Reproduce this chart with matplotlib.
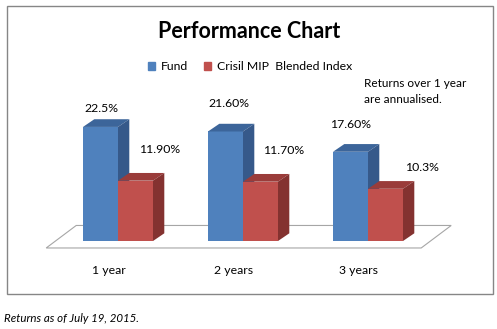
import matplotlib
matplotlib.use('Agg')
import matplotlib.pyplot as plt
from matplotlib.patches import Polygon, Rectangle, Patch

plt.rcParams['font.family'] = ['Lato', 'DejaVu Sans']

####################################################################################################

categories = ['1 year', '2 years', '3 years']
fund = [22.5, 21.6, 17.6]
index = [11.9, 11.7, 10.3]
fund_labels = ['22.5%', '21.60%', '17.60%']
index_labels = ['11.90%', '11.70%', '10.3%']
series_names = ['Fund', 'Crisil MIP  Blended Index']

####################################################################################################

W, H = 497, 329
fig = plt.figure(figsize=(W / 100, H / 100), dpi=100)
ax = fig.add_axes([0, 0, 1, 1])

# pixel mapping: category centre 0 at x=118 px, 125 px per category; 0% at y=241 px, 5.07 px per %
px_x, px_y = 125.0, 5.07
x0_px, y0_px = 118.0, 241.0
ax.set_xlim(-x0_px / px_x, (W - x0_px) / px_x)
ax.set_ylim(-(H - y0_px) / px_y, y0_px / px_y)
ax.axis('off')

bw = 35 / px_x
dx, dy = 11.3 / px_x, 7.7 / px_y        # bar depth
fdx, fdy = 30 / px_x, 22.5 / px_y       # floor depth
fpos = 0.31                             # where the bars stand on the floor

blue = ('#4F81BD', '#3C659A', '#36598A')
red = ('#C0504D', '#9A3C3A', '#843230')

# floor
fx0 = -0.5 - fpos * fdx
fx1 = len(categories) - 0.5 - fpos * fdx
fy = -fpos * fdy
ax.add_patch(Polygon([(fx0, fy), (fx1, fy), (fx1 + fdx, fy + fdy), (fx0 + fdx, fy + fdy)],
                     closed=True, facecolor='white', edgecolor='#a6a6a6', lw=0.8, zorder=1))


def bar3d(x, h, cols, z):
    ax.bar([x], [h], width=bw, align='edge', color=cols[0], lw=0, zorder=z)
    ax.add_patch(Polygon([(x, h), (x + bw, h), (x + bw + dx, h + dy), (x + dx, h + dy)],
                         closed=True, facecolor=cols[1], lw=0, zorder=z))
    ax.add_patch(Polygon([(x + bw, 0), (x + bw, h), (x + bw + dx, h + dy), (x + bw + dx, dy)],
                         closed=True, facecolor=cols[2], lw=0, zorder=z))


for i in range(len(categories)):
    bar3d(i - bw, fund[i], blue, 2 + 2 * i)
    bar3d(i, index[i], red, 3 + 2 * i)

# value labels (offsets in pixels from the front-top centre of each bar)
fund_off = [(1, 18), (3, 28), (0, 27)]
index_off = [(24, 31), (23, 31), (36, 21)]
for i in range(len(categories)):
    ax.annotate(fund_labels[i], (i - bw / 2, fund[i]), xytext=(fund_off[i][0] * 0.72, fund_off[i][1] * 0.72),
                textcoords='offset points', ha='center', va='center', fontsize=8.8, color='black')
    ax.annotate(index_labels[i], (i + bw / 2, index[i]), xytext=(index_off[i][0] * 0.72, index_off[i][1] * 0.72),
                textcoords='offset points', ha='center', va='center', fontsize=8.8, color='black')

# category labels
for i, c in enumerate(categories):
    ax.text(i - fpos * fdx, -(270 - y0_px) / px_y, c, ha='center', va='center', fontsize=8.8)

# title, legend, notes
fig.text(249 / W, 1 - 32 / H, 'Performance Chart', ha='center', va='center',
         fontsize=15.5, fontweight='bold')
handles = [Patch(color=blue[0], label=series_names[0]), Patch(color=red[0], label=series_names[1])]
fig.legend(handles=handles, loc='center', bbox_to_anchor=(250 / W, 1 - 67 / H), ncol=2, frameon=False,
           fontsize=8.8, handlelength=0.6, handleheight=0.6, handletextpad=0.45, columnspacing=1.3)
fig.text(364 / W, 1 - 83 / H, 'Returns over 1 year', ha='left', va='center', fontsize=8.5)
fig.text(364 / W, 1 - 99 / H, 'are annualised.', ha='left', va='center', fontsize=8.5)
fig.text(4 / W, 1 - 318 / H, 'Returns as of July 19, 2015.', ha='left', va='center',
         fontsize=8.3, style='italic')

fig.add_artist(Rectangle((6.7 / W, 1 - 294 / H), 486 / W, 288 / H, transform=fig.transFigure,
                         fill=False, edgecolor='#868686', lw=1.0))

fig.savefig('out.png', dpi=100, facecolor='white')
